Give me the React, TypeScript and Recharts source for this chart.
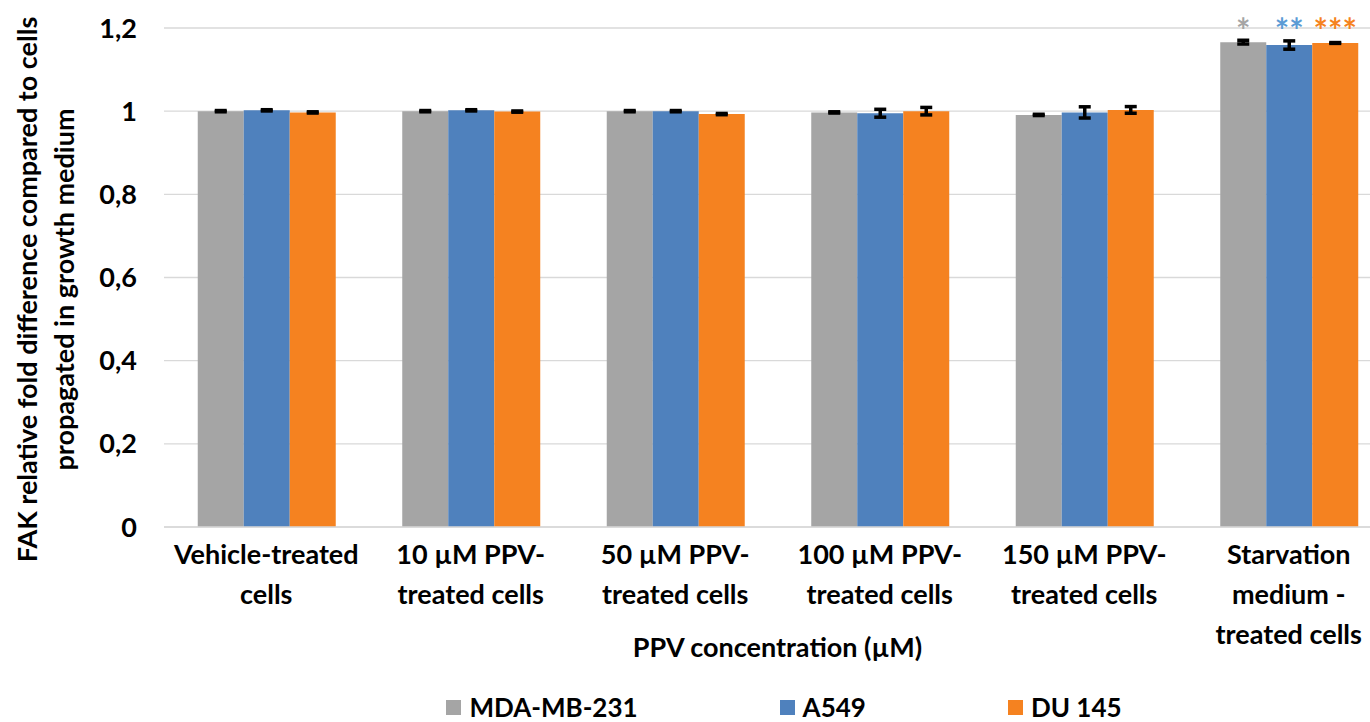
import React from "react";
import { BarChart, Bar, XAxis, YAxis, CartesianGrid, ErrorBar, LabelList, Legend } from "recharts";

const categories = [
  "Vehicle-treated cells",
  "10 µM PPV-treated cells",
  "50 µM PPV-treated cells",
  "100 µM PPV-treated cells",
  "150 µM PPV-treated cells",
  "Starvation medium - treated cells",
];
const categoryLines = [
  ["Vehicle-treated", "cells"],
  ["10 µM PPV-", "treated cells"],
  ["50 µM PPV-", "treated cells"],
  ["100 µM PPV-", "treated cells"],
  ["150 µM PPV-", "treated cells"],
  ["Starvation", "medium -", "treated cells"],
];
const mdaValues = [1.0, 1.0, 1.0, 0.997, 0.991, 1.166];
const a549Values = [1.002, 1.002, 1.0, 0.995, 0.997, 1.159];
const du145Values = [0.997, 0.999, 0.993, 1.0, 1.003, 1.164];
const mdaErrors = [0.0015, 0.0015, 0.0015, 0.0015, 0.0015, 0.0045];
const a549Errors = [0.0015, 0.0015, 0.0015, 0.0095, 0.0135, 0.01];
const du145Errors = [0.0015, 0.0015, 0.0015, 0.009, 0.008, 0.001];
const mdaStars = ["", "", "", "", "", "*"];
const a549Stars = ["", "", "", "", "", "**"];
const du145Stars = ["", "", "", "", "", "***"];
const yTicks = [0, 0.2, 0.4, 0.6, 0.8, 1, 1.2];
const seriesNames = ["MDA-MB-231", "A549", "DU 145"];

const COLORS = ["#a5a5a5", "#4f81bd", "#f58220"];
const STAR_COLORS = ["#a5a5a5", "#5b9bd5", "#f58220"];
const FONT = "Lato, 'Open Sans', sans-serif";
const FS = 27;

const data = categories.map((c, i) => ({
  name: c,
  mda: mdaValues[i],
  a549: a549Values[i],
  du145: du145Values[i],
  mdaErr: mdaErrors[i],
  a549Err: a549Errors[i],
  du145Err: du145Errors[i],
  mdaStar: mdaStars[i],
  a549Star: a549Stars[i],
  du145Star: du145Stars[i],
}));

const fmtY = (v: number) => {
  const s = Number(v.toFixed(1));
  if (s === 0) return "0";
  if (s === 1) return "1";
  return s.toFixed(1).replace(".", ",");
};

const XTick = (props: any) => {
  const { x, y, payload } = props;
  const lines = categoryLines[payload.index] || [String(payload.value)];
  return (
    <g transform={`translate(${x},${y})`}>
      {lines.map((l, i) => (
        <text
          key={i}
          x={0}
          y={37 + i * 40}
          textAnchor="middle"
          fontFamily={FONT}
          fontWeight={700}
          fontSize={FS}
          fill="#000"
        >
          {l}
        </text>
      ))}
    </g>
  );
};

const makeStar = (color: string) => (props: any) => {
  const { x, width, value } = props;
  if (!value) return null;
  return (
    <text
      x={Number(x) + Number(width) / 2}
      y={43}
      textAnchor="middle"
      fontFamily={FONT}
      fontWeight={700}
      fontSize={34}
      fill={color}
    >
      {value}
    </text>
  );
};

const YLabel = (props: any) => {
  const vb = props.viewBox || {};
  const cy = (vb.y ?? 28) + (vb.height ?? 499) / 2 + 12;
  const lines = ["FAK relative fold difference compared to cells", "propagated in growth medium"];
  const xs = [28, 65];
  return (
    <g>
      {lines.map((l, i) => (
        <text
          key={i}
          x={xs[i]}
          y={cy}
          transform={`rotate(-90, ${xs[i]}, ${cy})`}
          textAnchor="middle"
          dy="0.35em"
          fontFamily={FONT}
          fontWeight={700}
          fontSize={FS}
          fill="#000"
        >
          {l}
        </text>
      ))}
    </g>
  );
};

const XLabel = (props: any) => {
  const vb = props.viewBox || {};
  const cx = (vb.x ?? 164) + (vb.width ?? 1227) / 2;
  const top = vb.y ?? 527;
  return (
    <text
      x={cx}
      y={top + 130}
      textAnchor="middle"
      fontFamily={FONT}
      fontWeight={700}
      fontSize={FS}
      fill="#000"
    >
      PPV concentration (µM)
    </text>
  );
};

const LegendContent = () => (
  <div
    style={{
      display: "flex",
      justifyContent: "center",
      alignItems: "center",
      gap: 142,
      height: 30,
      lineHeight: "30px",
      fontFamily: FONT,
      fontWeight: 700,
      fontSize: 26,
      color: "#000",
    }}
  >
    {seriesNames.map((n, i) => (
      <div key={n} style={{ display: "flex", alignItems: "center", height: 30 }}>
        <span
          style={{
            display: "inline-block",
            width: 15,
            height: 15,
            background: COLORS[i],
            marginRight: 8,
          }}
        />
        <span>{n}</span>
      </div>
    ))}
  </div>
);

export default function App() {
  return (
    <div
      style={{
        position: "fixed",
        left: 0,
        top: 0,
        width: 1370,
        height: 722,
        overflow: "hidden",
        background: "#fff",
      }}
    >
      <BarChart
        width={1400}
        height={722}
        data={data}
        margin={{ top: 28, right: 9, bottom: 5, left: 0 }}
        barCategoryGap="16.5%"
        barGap={0}
      >
        <CartesianGrid vertical={false} stroke="#d9d9d9" strokeWidth={1.3} />
        <XAxis
          dataKey="name"
          interval={0}
          tickLine={false}
          tickSize={0}
          tickMargin={0}
          height={160}
          axisLine={{ stroke: "#d9d9d9", strokeWidth: 1.3 }}
          tick={<XTick />}
          label={<XLabel />}
        />
        <YAxis
          width={164}
          domain={[0, 1.2]}
          ticks={yTicks}
          tickFormatter={fmtY}
          axisLine={false}
          tickLine={false}
          tickSize={0}
          tickMargin={27}
          tick={{ fontFamily: FONT, fontWeight: 700, fontSize: FS, fill: "#000" }}
          label={<YLabel />}
        />
        <Legend
          verticalAlign="bottom"
          height={30}
          content={<LegendContent />}
          wrapperStyle={{ left: 0, width: 1568, top: 692, bottom: "auto", height: 30 }}
        />
        <Bar dataKey="mda" name={seriesNames[0]} fill={COLORS[0]} isAnimationActive={false}>
          <ErrorBar dataKey="mdaErr" width={6} strokeWidth={3.5} stroke="#000" isAnimationActive={false} />
          <LabelList dataKey="mdaStar" content={makeStar(STAR_COLORS[0])} />
        </Bar>
        <Bar dataKey="a549" name={seriesNames[1]} fill={COLORS[1]} isAnimationActive={false}>
          <ErrorBar dataKey="a549Err" width={6} strokeWidth={3.5} stroke="#000" isAnimationActive={false} />
          <LabelList dataKey="a549Star" content={makeStar(STAR_COLORS[1])} />
        </Bar>
        <Bar dataKey="du145" name={seriesNames[2]} fill={COLORS[2]} isAnimationActive={false}>
          <ErrorBar dataKey="du145Err" width={6} strokeWidth={3.5} stroke="#000" isAnimationActive={false} />
          <LabelList dataKey="du145Star" content={makeStar(STAR_COLORS[2])} />
        </Bar>
      </BarChart>
    </div>
  );
}
